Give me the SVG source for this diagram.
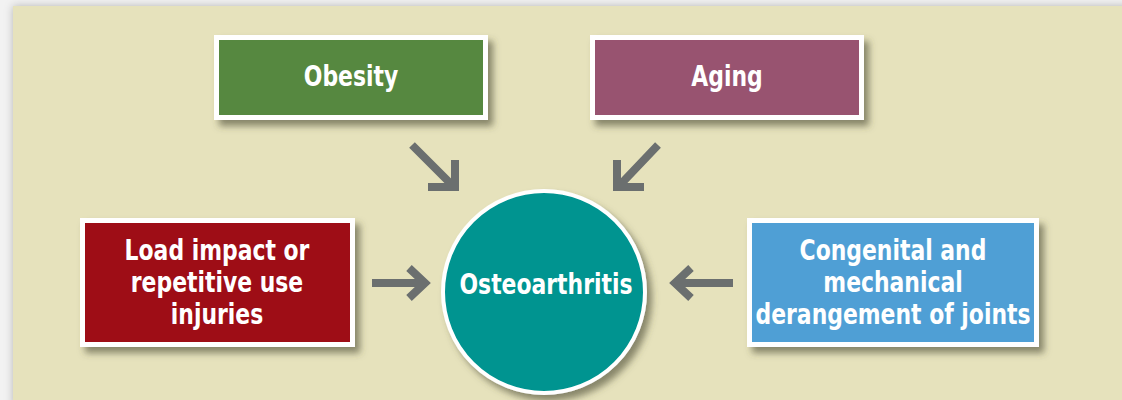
<svg xmlns="http://www.w3.org/2000/svg" width="1122" height="400" viewBox="0 0 1122 400">
<defs>
<filter id="sh" x="-10%" y="-10%" width="130%" height="140%">
<feDropShadow dx="5" dy="6" stdDeviation="3.5" flood-color="#4a4a30" flood-opacity="0.6"/>
</filter>
<filter id="psh" x="-5%" y="-5%" width="110%" height="110%">
<feDropShadow dx="0" dy="0" stdDeviation="4" flood-color="#000" flood-opacity="0.25"/>
</filter>
</defs>
<style>
.box{stroke:#fff;stroke-width:5}
.t{font-family:"DejaVu Sans Condensed","DejaVu Sans",sans-serif;font-stretch:condensed;font-weight:bold;font-size:29px;fill:#fff;text-anchor:middle}
.arr{fill:none;stroke:#6B6F6F;stroke-width:8}
</style>
<rect width="1122" height="400" fill="#F2F2F2"/>
<rect x="13" y="6" width="1120" height="400" fill="#E6E2BC" filter="url(#psh)"/>
<g id="connectors">
<path class="arr" d="M412,145 L453,186 M455,160 L455,187 L428,187"/>
<path class="arr" d="M658,145 L619,186 M617,160 L617,187 L644,187"/>
<path class="arr" d="M372,283 L424,283 M409,268 L425,283 L409,298"/>
<path class="arr" d="M733,283 L676,283 M691,268 L675,283 L691,298"/>
</g>
<g id="obesity">
<rect class="box" x="216.5" y="37.5" width="269" height="80" fill="#56883F" filter="url(#sh)"/>
<text class="t" transform="translate(351,0) scale(0.84,1)" x="0" y="86">Obesity</text>
</g>
<g id="aging">
<rect class="box" x="592.5" y="37.5" width="269" height="80" fill="#98526F" filter="url(#sh)"/>
<text class="t" transform="translate(727,0) scale(0.84,1)" x="0" y="86">Aging</text>
</g>
<g id="load">
<rect class="box" x="82.5" y="220.5" width="270" height="124" fill="#9E0A13" filter="url(#sh)"/>
<g transform="translate(217,0) scale(0.84,1)">
<text class="t" x="0" y="260">Load impact or</text>
<text class="t" x="0" y="292">repetitive use</text>
<text class="t" x="0" y="324">injuries</text>
</g>
</g>
<g id="congenital">
<rect class="box" x="749.5" y="220.5" width="287" height="124" fill="#509FD5" filter="url(#sh)"/>
<g transform="translate(893,0) scale(0.84,1)">
<text class="t" x="0" y="260">Congenital and</text>
<text class="t" x="0" y="292">mechanical</text>
<text class="t" x="0" y="324">derangement of joints</text>
</g>
</g>
<g id="osteoarthritis">
<circle cx="544" cy="292" r="101" fill="#009490" stroke="#fff" stroke-width="4" filter="url(#sh)"/>
<text class="t" transform="translate(546,0) scale(0.84,1)" x="0" y="294">Osteoarthritis</text>
</g>
</svg>
